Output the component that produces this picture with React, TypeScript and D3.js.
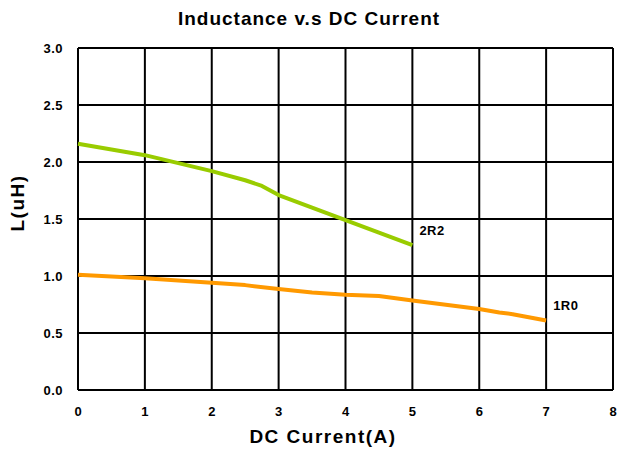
import * as d3 from 'd3'

const width = 619,
      height = 453,
      margin = { top: 48, right: 6, bottom: 63, left: 78 },
      innerWidth = width - margin.left - margin.right,
      innerHeight = height - margin.top - margin.bottom

const xTicks = [0, 1, 2, 3, 4, 5, 6, 7, 8]
const yTicks = [0, 0.5, 1.0, 1.5, 2.0, 2.5, 3.0]

const current2R2 = [0, 0.5, 1, 1.5, 2, 2.5, 2.75, 3, 3.5, 4, 4.5, 5]
const induct2R2 = [2.16, 2.11, 2.06, 1.99, 1.92, 1.84, 1.79, 1.71, 1.6, 1.49, 1.38, 1.27]

const current1R0 = [0, 1, 2, 2.5, 3, 3.5, 4, 4.5, 5, 6, 6.3, 6.5, 7]
const induct1R0 = [1.01, 0.98, 0.94, 0.92, 0.885, 0.855, 0.835, 0.825, 0.785, 0.71, 0.68, 0.665, 0.61]

const series = [
  { name: '2R2', xs: current2R2, ys: induct2R2, color: '#99cc00' },
  { name: '1R0', xs: current1R0, ys: induct1R0, color: '#ff9900' },
]

const x = d3.scaleLinear().domain([0, 8]).range([0, innerWidth])
const y = d3.scaleLinear().domain([0, 3]).range([innerHeight, 0])

const font = 'Liberation Sans, Arial, sans-serif'

export default function App() {
  const line = d3.line<[number, number]>()
    .x(d => x(d[0]))
    .y(d => y(d[1]))

  return (
    <svg width={width} height={height} style={{ position: 'absolute', left: 0, top: 0, background: '#fff' }}
      fontFamily={font} fontWeight='bold'>
      <text x={309} y={25} textAnchor='middle' fontSize={19} letterSpacing={1}>Inductance v.s DC Current</text>

      <g transform={`translate(${margin.left}, ${margin.top})`}>
        <g className='grid'>
          {xTicks.map(t =>
            <line key={'x' + t} x1={x(t)} x2={x(t)} y1={0} y2={innerHeight} stroke='#000' strokeWidth={2} />
          )}
          {yTicks.map(t =>
            <line key={'y' + t} x1={0} x2={innerWidth} y1={y(t)} y2={y(t)} stroke='#000' strokeWidth={2} />
          )}
        </g>

        <g className='y-ticks' fontSize={13} letterSpacing={0.5}>
          {yTicks.map(t =>
            <text key={t} x={-15} y={y(t)} dy='0.35em' textAnchor='end'>{t.toFixed(1)}</text>
          )}
        </g>

        <g className='x-ticks' fontSize={13}>
          {xTicks.map(t =>
            <text key={t} x={x(t)} y={innerHeight + 26} textAnchor='middle'>{t}</text>
          )}
        </g>

        <g className='lines'>
          {series.map(s =>
            <path key={s.name}
              d={line(s.xs.map((v, i) => [v, s.ys[i]] as [number, number])) || ''}
              fill='none' stroke={s.color} strokeWidth={4} strokeLinejoin='round' />
          )}
        </g>

        <g className='labels' fontSize={13} letterSpacing={0.5}>
          {series.map(s => {
            const n = s.xs.length - 1
            return (
              <text key={s.name} x={x(s.xs[n]) + 7} y={y(s.ys[n]) - 10}>{s.name}</text>
            )
          })}
        </g>
      </g>

      <text x={323} y={443} textAnchor='middle' fontSize={19} letterSpacing={1.5}>DC Current(A)</text>
      <text transform={`translate(24, 203) rotate(-90)`} textAnchor='middle' fontSize={19} letterSpacing={1.5}>L(uH)</text>
    </svg>
  )
}
